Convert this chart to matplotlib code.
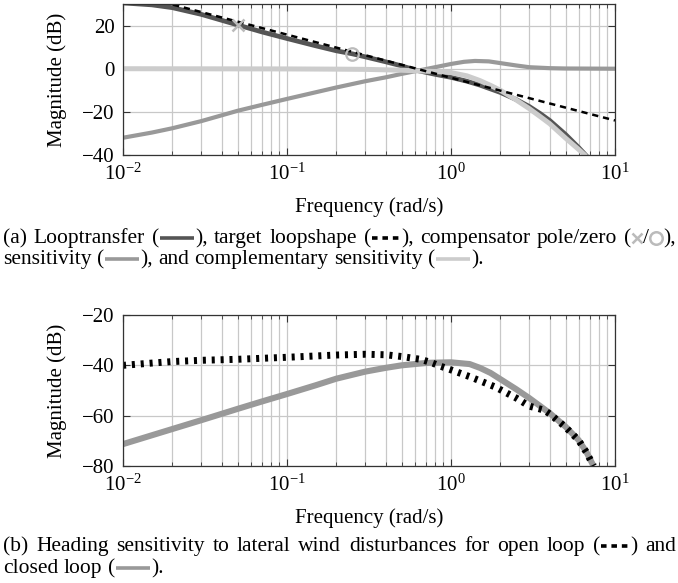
import matplotlib
matplotlib.use("Agg")
import matplotlib.pyplot as plt
from matplotlib.lines import Line2D
from matplotlib.ticker import LogLocator, NullFormatter

plt.rcParams['font.family'] = ['Liberation Serif', 'DejaVu Serif']
plt.rcParams['mathtext.fontset'] = 'custom'
plt.rcParams['mathtext.rm'] = 'Liberation Serif'
plt.rcParams['mathtext.it'] = 'Liberation Serif:italic'
plt.rcParams['lines.scale_dashes'] = False
plt.rcParams['font.size'] = 15

# ---- (a) loop shaping data ----
w_loop = [0.01, 0.015, 0.02, 0.03, 0.05, 0.07, 0.1, 0.15, 0.2, 0.25, 0.3, 0.4, 0.5, 0.62,
          0.8, 1.0, 1.25, 1.5, 2.0, 2.5, 3.0, 3.5, 4.0, 5.0, 6.0, 7.0]
loop_db = [30.5, 29.6, 28.3, 25.2, 20.3, 17.1, 14.0, 10.6, 8.3, 6.9, 5.5, 3.2, 1.3, -0.8,
           -2.6, -4.0, -5.8, -7.6, -11.0, -14.3, -17.5, -20.8, -24.0, -30.5, -36.5, -42.0]

w_target = [0.01, 0.1, 1.0, 10.0]
target_db = [35.8, 15.8, -4.2, -24.0]

w_sens = [0.01, 0.015, 0.02, 0.03, 0.05, 0.07, 0.1, 0.15, 0.2, 0.3, 0.4, 0.5, 0.62, 0.8,
          1.0, 1.2, 1.4, 1.7, 2.0, 2.5, 3.0, 4.0, 5.0, 10.0]
sens_db = [-32.0, -29.6, -27.6, -24.3, -19.5, -16.8, -14.0, -10.9, -8.7, -5.8, -4.0, -2.4, -1.0, 0.7,
           2.2, 3.2, 3.6, 3.4, 2.6, 1.5, 0.7, 0.25, 0.1, 0.0]

w_comp = [0.01, 0.1, 0.2, 0.3, 0.5, 0.62, 0.8, 1.0, 1.25, 1.5, 1.75, 2.0, 2.5, 3.0, 3.5,
          4.0, 5.0, 6.0, 6.55, 7.0]
comp_db = [0.0, -0.1, -0.2, -0.3, -0.7, -1.0, -1.3, -1.8, -3.3, -5.5, -7.8, -10.0, -14.5, -18.5, -22.2,
           -25.5, -32.2, -37.4, -40.0, -43.0]

pole_w, pole_db = [0.05], [20.3]
zero_w, zero_db = [0.25], [6.9]

# ---- (b) wind disturbance data ----
w_cl = [0.01, 0.02, 0.03, 0.05, 0.07, 0.1, 0.15, 0.2, 0.3, 0.4, 0.5, 0.72, 1.0, 1.3, 1.5,
        1.74, 2.0, 2.5, 3.0, 3.5, 4.0, 5.0, 6.0, 6.7, 7.4]
cl_db = [-71.3, -65.3, -61.8, -57.3, -54.4, -51.4, -47.9, -45.3, -42.5, -41.0, -40.0, -39.0, -38.8, -39.5, -41.0,
         -43.0, -45.5, -49.5, -53.0, -56.2, -59.0, -64.4, -69.7, -74.5, -80.0]

w_ol = [0.01, 0.015, 0.02, 0.03, 0.05, 0.1, 0.2, 0.3, 0.4, 0.5, 0.65, 0.75, 0.86, 1.0, 1.3,
        1.86, 2.5, 3.0, 3.7, 4.0, 5.0, 6.0, 6.7, 7.4]
ol_db = [-40.0, -39.1, -38.5, -38.0, -37.6, -36.8, -35.9, -35.6, -35.8, -36.5, -37.6, -38.8, -40.3, -41.8, -44.5,
         -48.6, -53.0, -56.2, -57.8, -59.3, -64.6, -69.8, -74.6, -80.0]

C_LOOP = '#555555'
C_SENS = '#999999'
C_COMP = '#cccccc'
C_MARK = '#bbbbbb'

W, H = 678, 583
fig = plt.figure(figsize=(W / 100, H / 100), dpi=100)


def px_axes(left, top, right, bottom):
    return fig.add_axes([left / W, 1 - bottom / H, (right - left) / W, (bottom - top) / H])


def style_axes(ax, ylim, yticks):
    ax.set_xscale('log')
    ax.set_xlim(0.01, 10)
    ax.set_ylim(*ylim)
    ax.set_yticks(yticks)
    ax.xaxis.set_minor_locator(LogLocator(base=10, subs=range(2, 10)))
    ax.xaxis.set_minor_formatter(NullFormatter())
    ax.grid(True, which='major', color='#c8c8c8', lw=0.9)
    ax.grid(True, which='minor', axis='x', color='#c8c8c8', lw=0.9)
    ax.set_axisbelow(True)
    ax.tick_params(which='both', direction='in', top=True, right=True, colors='#333333',
                   labelcolor='black', labelsize=15, pad=6)
    ax.tick_params(which='major', length=5, width=0.8)
    ax.tick_params(which='minor', length=3, width=0.6)
    for s in ax.spines.values():
        s.set_color('#333333')
        s.set_linewidth(0.9)
    ax.set_ylabel('Magnitude (dB)', fontsize=15, labelpad=11)
    ax.set_xlabel('Frequency (rad/s)', fontsize=15, labelpad=9)


ax1 = px_axes(123, 4, 615, 155)
ax1.plot(w_sens, sens_db, color=C_SENS, lw=3.0, solid_capstyle='butt')
ax1.plot(w_loop, loop_db, color=C_LOOP, lw=3.4, solid_capstyle='butt')
ax1.plot(w_comp, comp_db, color=C_COMP, lw=3.6, solid_capstyle='butt')
ax1.plot(w_target, target_db, color='black', lw=1.8, dashes=(4.5, 3.5))
ax1.plot(pole_w, pole_db, ls='none', marker='x', ms=8, mew=1.8, color=C_MARK)
ax1.plot(zero_w, zero_db, ls='none', marker='o', ms=9, mew=1.6, mfc='none', mec=C_MARK)
style_axes(ax1, (-40, 30), [-40, -20, 0, 20])

ax2 = px_axes(123, 315, 615, 466)
ax2.plot(w_cl, cl_db, color=C_SENS, lw=4.4, solid_capstyle='butt')
ax2.plot(w_ol, ol_db, color='black', lw=5.0, dashes=(2.2, 4.2))
style_axes(ax2, (-80, -20), [-80, -60, -40, -20])


# caption with inline line samples, one call per line
def caption_line(y_base, parts, x_start=3, justify_to=None, fs=15.5):
    r = fig.canvas.get_renderer()
    space = 0.25 * fs * 100 / 72
    tokens = []
    for p in parts:
        if isinstance(p, str):
            words = p.split(' ')
            for i, wd in enumerate(words):
                if i > 0:
                    tokens.append(('sp', None))
                if wd:
                    tokens.append(('t', wd))
        else:
            tokens.append(('s', p))
    widths = []
    for kind, val in tokens:
        if kind == 't':
            t = fig.text(0, 0, val, fontsize=fs)
            widths.append(t.get_window_extent(r).width)
            t.remove()
        elif kind == 'sp':
            widths.append(space)
        else:
            widths.append(val[1])
    n_sp = sum(1 for k, _ in tokens if k == 'sp')
    extra = 0
    if justify_to is not None and n_sp:
        extra = (justify_to - x_start - sum(widths)) / n_sp
    x = x_start
    yb = H - y_base
    ymid = yb + 5.5
    for (kind, val), wd in zip(tokens, widths):
        if kind == 't':
            fig.text(x / W, yb / H, val, fontsize=fs, va='baseline', ha='left')
        elif kind == 'sp':
            x += extra
        else:
            name = val[0]
            if name == 'marker':
                fig.add_artist(Line2D([(x + wd / 2) / W], [ymid / H], ls='none', **val[2]))
            else:
                fig.add_artist(Line2D([(x + 1) / W, (x + wd - 1) / W], [ymid / H, ymid / H],
                                      solid_capstyle='butt', **val[2]))
        x += wd


s_loop = ('line', 36, dict(color=C_LOOP, lw=2.6))
s_tgt = ('line', 30, dict(color='black', lw=2.6, dashes=(4, 3.5)))
s_sens = ('line', 36, dict(color=C_SENS, lw=2.6))
s_comp = ('line', 36, dict(color=C_COMP, lw=2.6))
s_cross = ('marker', 12, dict(marker='x', ms=7, mew=1.8, color=C_MARK))
s_circ = ('marker', 14, dict(marker='o', ms=9, mew=1.8, mfc='none', mec=C_MARK))

caption_line(243, ['(a) Looptransfer (', s_loop, '), target loopshape (', s_tgt,
                   '), compensator pole/zero (', s_cross, '/', s_circ, '),'], justify_to=676)
caption_line(264, ['sensitivity (', s_sens, '), and complementary sensitivity (', s_comp, ').'])
caption_line(551, ['(b) Heading sensitivity to lateral wind disturbances for open loop (', s_tgt,
                   ') and'], justify_to=676)
caption_line(573, ['closed loop (', s_sens, ').'])

fig.savefig('out.png', dpi=100)
